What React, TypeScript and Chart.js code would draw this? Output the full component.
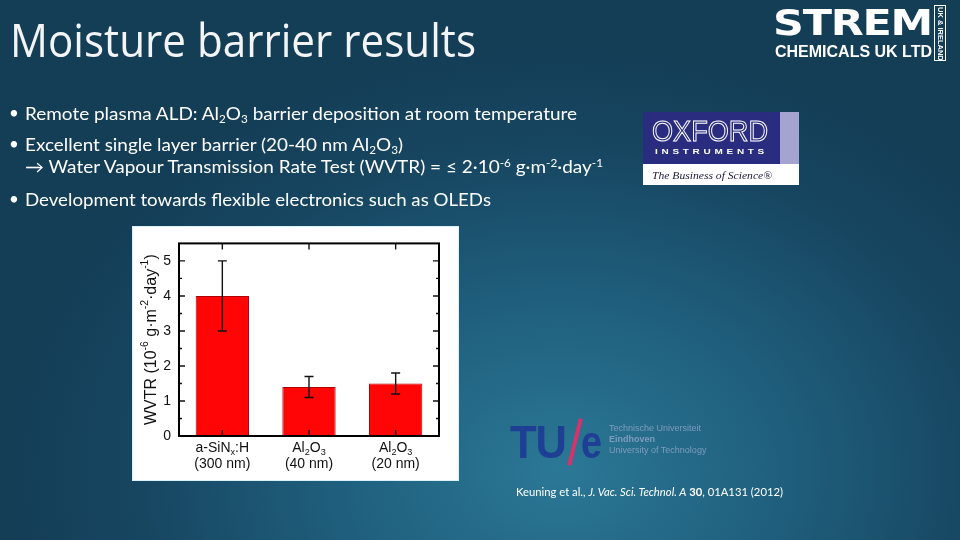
import React, { useEffect, useLayoutEffect, useRef } from "react";
import { Chart, registerables } from "chart.js";

Chart.register(...registerables);

// ---- chart data ----
const categoryNames = ["a-SiN_x:H", "Al_2O_3", "Al_2O_3"];
const categoryThickness = ["(300 nm)", "(40 nm)", "(20 nm)"];
const wvtrValues = [4.0, 1.4, 1.5];
const wvtrErrors = [1.0, 0.3, 0.3];
const yMajorTicks = [0, 1, 2, 3, 4, 5];
const yMinorTicks = [0.5, 1.5, 2.5, 3.5, 4.5];
const yMin = 0;
const yMax = 5.5;
const yTitleParts: [string, string][] = [
  ["WVTR (10", "n"],
  ["-6", "sup"],
  [" g·m", "n"],
  ["-2", "sup"],
  ["·day", "n"],
  ["-1", "sup"],
  [")", "n"],
];

const FONT = "'Liberation Sans', Arial, sans-serif";

function parseSub(s: string): [string, string][] {
  const out: [string, string][] = [];
  let buf = "";
  for (let i = 0; i < s.length; i++) {
    if (s[i] === "_" && i + 1 < s.length) {
      if (buf) out.push([buf, "n"]);
      buf = "";
      out.push([s[i + 1], "sub"]);
      i++;
    } else buf += s[i];
  }
  if (buf) out.push([buf, "n"]);
  return out;
}

function drawRich(ctx: CanvasRenderingContext2D, parts: [string, string][], cx: number, cy: number, size: number) {
  const small = size * 0.65;
  const widths = parts.map(([t, k]) => {
    ctx.font = `${k === "n" ? size : small}px ${FONT}`;
    return ctx.measureText(t).width;
  });
  const total = widths.reduce((a, b) => a + b, 0);
  let x = cx - total / 2;
  ctx.textAlign = "left";
  ctx.textBaseline = "middle";
  parts.forEach(([t, k], i) => {
    ctx.font = `${k === "n" ? size : small}px ${FONT}`;
    let dy = 0;
    if (k === "sub") dy = size * 0.32;
    if (k === "sup") dy = -size * 0.42;
    ctx.fillText(t, x, cy + dy);
    x += widths[i];
  });
}

const decorPlugin = {
  id: "decor",
  afterDatasetsDraw(chart: any) {
    const { ctx, chartArea: a, scales } = chart;
    const xs = scales.x;
    const ys = scales.y;
    ctx.save();
    // error bars
    ctx.strokeStyle = "#111";
    ctx.lineWidth = 1.4;
    wvtrValues.forEach((v, i) => {
      const px = xs.getPixelForValue(i);
      const t = ys.getPixelForValue(v + wvtrErrors[i]);
      const b = ys.getPixelForValue(v - wvtrErrors[i]);
      ctx.beginPath();
      ctx.moveTo(px, t);
      ctx.lineTo(px, b);
      ctx.moveTo(px - 4.5, t);
      ctx.lineTo(px + 4.5, t);
      ctx.moveTo(px - 4.5, b);
      ctx.lineTo(px + 4.5, b);
      ctx.stroke();
    });
    // ticks
    ctx.lineWidth = 1.4;
    ctx.beginPath();
    yMajorTicks.forEach((v) => {
      const py = ys.getPixelForValue(v);
      ctx.moveTo(a.left, py);
      ctx.lineTo(a.left + 6, py);
      ctx.moveTo(a.right, py);
      ctx.lineTo(a.right - 6, py);
    });
    yMinorTicks.forEach((v) => {
      const py = ys.getPixelForValue(v);
      ctx.moveTo(a.left, py);
      ctx.lineTo(a.left + 3, py);
      ctx.moveTo(a.right, py);
      ctx.lineTo(a.right - 3, py);
    });
    wvtrValues.forEach((_, i) => {
      const px = xs.getPixelForValue(i);
      ctx.moveTo(px, a.bottom);
      ctx.lineTo(px, a.bottom - 6);
      ctx.moveTo(px, a.top);
      ctx.lineTo(px, a.top + 6);
    });
    ctx.stroke();
    // frame
    ctx.lineWidth = 2;
    ctx.strokeStyle = "#000";
    ctx.strokeRect(a.left, a.top, a.right - a.left, a.bottom - a.top);
    // x labels
    ctx.fillStyle = "#111";
    categoryNames.forEach((n, i) => {
      const px = xs.getPixelForValue(i);
      drawRich(ctx, parseSub(n), px, a.bottom + 12, 14);
      drawRich(ctx, [[categoryThickness[i], "n"]], px, a.bottom + 28, 14);
    });
    // y title
    ctx.translate(19, (a.top + a.bottom) / 2);
    ctx.rotate(-Math.PI / 2);
    drawRich(ctx, yTitleParts, 0, 0, 16);
    ctx.restore();
  },
};

function BarChart() {
  const ref = useRef<HTMLCanvasElement>(null);
  useEffect(() => {
    if (!ref.current) return;
    const chart = new Chart(ref.current, {
      type: "bar",
      data: {
        labels: categoryNames.map((n, i) => n + " " + categoryThickness[i]),
        datasets: [
          {
            data: wvtrValues,
            backgroundColor: "#ff0505",
            borderColor: "#b00000",
            borderWidth: 1,
            barPercentage: 0.615,
            categoryPercentage: 1,
          },
        ],
      },
      options: {
        animation: false,
        responsive: false,
        layout: { padding: { top: 15, right: 19, left: 0, bottom: 0 } },
        plugins: { legend: { display: false }, tooltip: { enabled: false } },
        scales: {
          x: {
            grid: { display: false, drawTicks: false },
            border: { display: false },
            ticks: { display: false },
            afterFit: (s: any) => {
              s.height = 44;
            },
          },
          y: {
            min: yMin,
            max: yMax,
            grid: { display: false, drawTicks: false },
            border: { display: false },
            ticks: {
              stepSize: 1,
              padding: 8,
              color: "#111",
              font: { family: FONT, size: 14 },
            },
            afterBuildTicks: (s: any) => {
              s.ticks = yMajorTicks.map((v) => ({ value: v }));
            },
            afterFit: (s: any) => {
              s.width = 46;
            },
          },
        },
      },
      plugins: [decorPlugin],
    });
    return () => chart.destroy();
  }, []);
  return <canvas ref={ref} width={325} height={253} style={{ display: "block" }} />;
}

function Fit({ width, style, children }: { width: number; style: React.CSSProperties; children: React.ReactNode }) {
  const ref = useRef<HTMLSpanElement>(null);
  useLayoutEffect(() => {
    const el = ref.current;
    if (!el) return;
    el.style.transform = "none";
    const w = el.getBoundingClientRect().width;
    if (w > 0) el.style.transform = `scaleX(${width / w})`;
  }, [width]);
  return (
    <span
      ref={ref}
      style={{
        position: "absolute",
        display: "inline-block",
        whiteSpace: "nowrap",
        transformOrigin: "left center",
        lineHeight: 1,
        ...style,
      }}
    >
      {children}
    </span>
  );
}

const sub: React.CSSProperties = { fontSize: "0.62em", verticalAlign: "-0.3em", lineHeight: 0 };
const sup: React.CSSProperties = { fontSize: "0.62em", verticalAlign: "0.55em", lineHeight: 0 };

export default function App() {
  useEffect(() => {
    document.body.style.margin = "0";
  }, []);
  const bulletFont: React.CSSProperties = {
    fontFamily: "Lato, 'Open Sans', sans-serif",
    fontSize: 17,
    color: "#ffffff",
  };
  return (
    <div
      style={{
        position: "fixed",
        left: 0,
        top: 0,
        width: 960,
        height: 540,
        overflow: "hidden",
        background:
          "radial-gradient(ellipse 560px 430px at 560px 470px, #2b7896 0%, #1f5f7d 40%, #174661 75%, #143d56 100%)",
      }}
    >
      {/* Title */}
      <Fit width={466} style={{ left: 10, top: 16, fontFamily: "'Open Sans', sans-serif", fontSize: 46, color: "#f2f4f5" }}>
        Moisture barrier results
      </Fit>

      {/* Bullets */}
      <span style={{ position: "absolute", left: 9, top: 104, ...bulletFont, lineHeight: 1 }}>•</span>
      <Fit width={552} style={{ left: 25, top: 105, ...bulletFont }}>
        Remote plasma ALD: Al<span style={sub}>2</span>O<span style={sub}>3</span> barrier deposition at room temperature
      </Fit>
      <span style={{ position: "absolute", left: 9, top: 135, ...bulletFont, lineHeight: 1 }}>•</span>
      <Fit width={378} style={{ left: 25, top: 136, ...bulletFont }}>
        Excellent single layer barrier (20-40 nm Al<span style={sub}>2</span>O<span style={sub}>3</span>)
      </Fit>
      <Fit width={578} style={{ left: 25, top: 158, ...bulletFont }}>
        → Water Vapour Transmission Rate Test (WVTR) = ≤ 2·10<span style={sup}>-6</span> g·m<span style={sup}>-2</span>·day
        <span style={sup}>-1</span>
      </Fit>
      <span style={{ position: "absolute", left: 9, top: 190, ...bulletFont, lineHeight: 1 }}>•</span>
      <Fit width={466} style={{ left: 25, top: 191, ...bulletFont }}>
        Development towards flexible electronics such as OLEDs
      </Fit>

      {/* Strem logo */}
      <Fit
        width={159}
        style={{
          left: 773,
          top: 6,
          fontFamily: "'DejaVu Sans', sans-serif",
          fontWeight: 900,
          fontSize: 35,
          color: "#ffffff",
          letterSpacing: -1,
        }}
      >
        STREM
      </Fit>
      <Fit
        width={157}
        style={{ left: 775, top: 44, fontFamily: FONT, fontWeight: 700, fontSize: 16, color: "#ffffff" }}
      >
        CHEMICALS UK LTD
      </Fit>
      <div
        style={{
          position: "absolute",
          left: 934,
          top: 5,
          width: 10,
          height: 54,
          border: "1.5px solid #ffffff",
          overflow: "hidden",
        }}
      >
        <span
          style={{
            position: "absolute",
            left: 0,
            top: 1,
            writingMode: "vertical-rl",
            fontFamily: FONT,
            fontWeight: 700,
            fontSize: 7.5,
            color: "#ffffff",
            lineHeight: "10px",
            whiteSpace: "nowrap",
          }}
        >
          UK &amp; IRELAND
        </span>
      </div>

      {/* Oxford Instruments logo */}
      <div style={{ position: "absolute", left: 643, top: 112, width: 156, height: 73 }}>
        <div style={{ position: "absolute", left: 0, top: 0, width: 137, height: 52, background: "#2a2c80" }} />
        <div style={{ position: "absolute", left: 137, top: 0, width: 19, height: 52, background: "#a5a4d0" }} />
        <div style={{ position: "absolute", left: 0, top: 52, width: 156, height: 21, background: "#ffffff" }} />
      </div>
      <Fit
        width={116}
        style={{
          left: 652,
          top: 117,
          fontFamily: FONT,
          fontWeight: 400,
          fontSize: 29,
          color: "transparent",
          WebkitTextStroke: "1px #ffffff",
        } as React.CSSProperties}
      >
        OXFORD
      </Fit>
      <Fit
        width={113}
        style={{ left: 655, top: 148, fontFamily: FONT, fontWeight: 700, fontSize: 8, letterSpacing: 3, color: "#ffffff" }}
      >
        INSTRUMENTS
      </Fit>
      <Fit
        width={120}
        style={{
          left: 652,
          top: 170,
          fontFamily: "'Liberation Serif', serif",
          fontStyle: "italic",
          fontSize: 11,
          color: "#1a1a3a",
        }}
      >
        The Business of Science®
      </Fit>

      {/* Chart */}
      <div
        style={{
          position: "absolute",
          left: 133,
          top: 227,
          width: 325,
          height: 253,
          background: "#ffffff",
          outline: "1px solid #d8f2f8",
        }}
      >
        <BarChart />
      </div>

      {/* TU/e logo */}
      <Fit
        width={56}
        style={{ left: 510, top: 419, fontFamily: FONT, fontWeight: 700, fontSize: 46, color: "#1e3f93", letterSpacing: -1 }}
      >
        TU
      </Fit>
      <div
        style={{
          position: "absolute",
          left: 573,
          top: 418,
          width: 4,
          height: 48,
          background: "#d5336b",
          transform: "rotate(14deg)",
        }}
      />
      <Fit
        width={21}
        style={{
          left: 581,
          top: 419,
          fontFamily: FONT,
          fontWeight: 700,
          fontSize: 46,
          color: "#1e3f93",
        }}
      >
        e
      </Fit>
      <span style={{ position: "absolute", left: 609, top: 424, fontFamily: FONT, fontSize: 9, color: "#7f9bbd", lineHeight: 1 }}>
        Technische Universiteit
      </span>
      <span
        style={{ position: "absolute", left: 609, top: 435, fontFamily: FONT, fontSize: 9, fontWeight: 700, color: "#7f9bbd", lineHeight: 1 }}
      >
        Eindhoven
      </span>
      <span style={{ position: "absolute", left: 609, top: 446, fontFamily: FONT, fontSize: 9, color: "#7f9bbd", lineHeight: 1 }}>
        University of Technology
      </span>

      {/* Citation */}
      <Fit width={267} style={{ left: 516, top: 486, fontFamily: "Lato, sans-serif", fontSize: 11, color: "#ffffff" }}>
        Keuning et al., <i>J. Vac. Sci. Technol. A</i> <b>30</b>, 01A131 (2012)
      </Fit>
    </div>
  );
}
